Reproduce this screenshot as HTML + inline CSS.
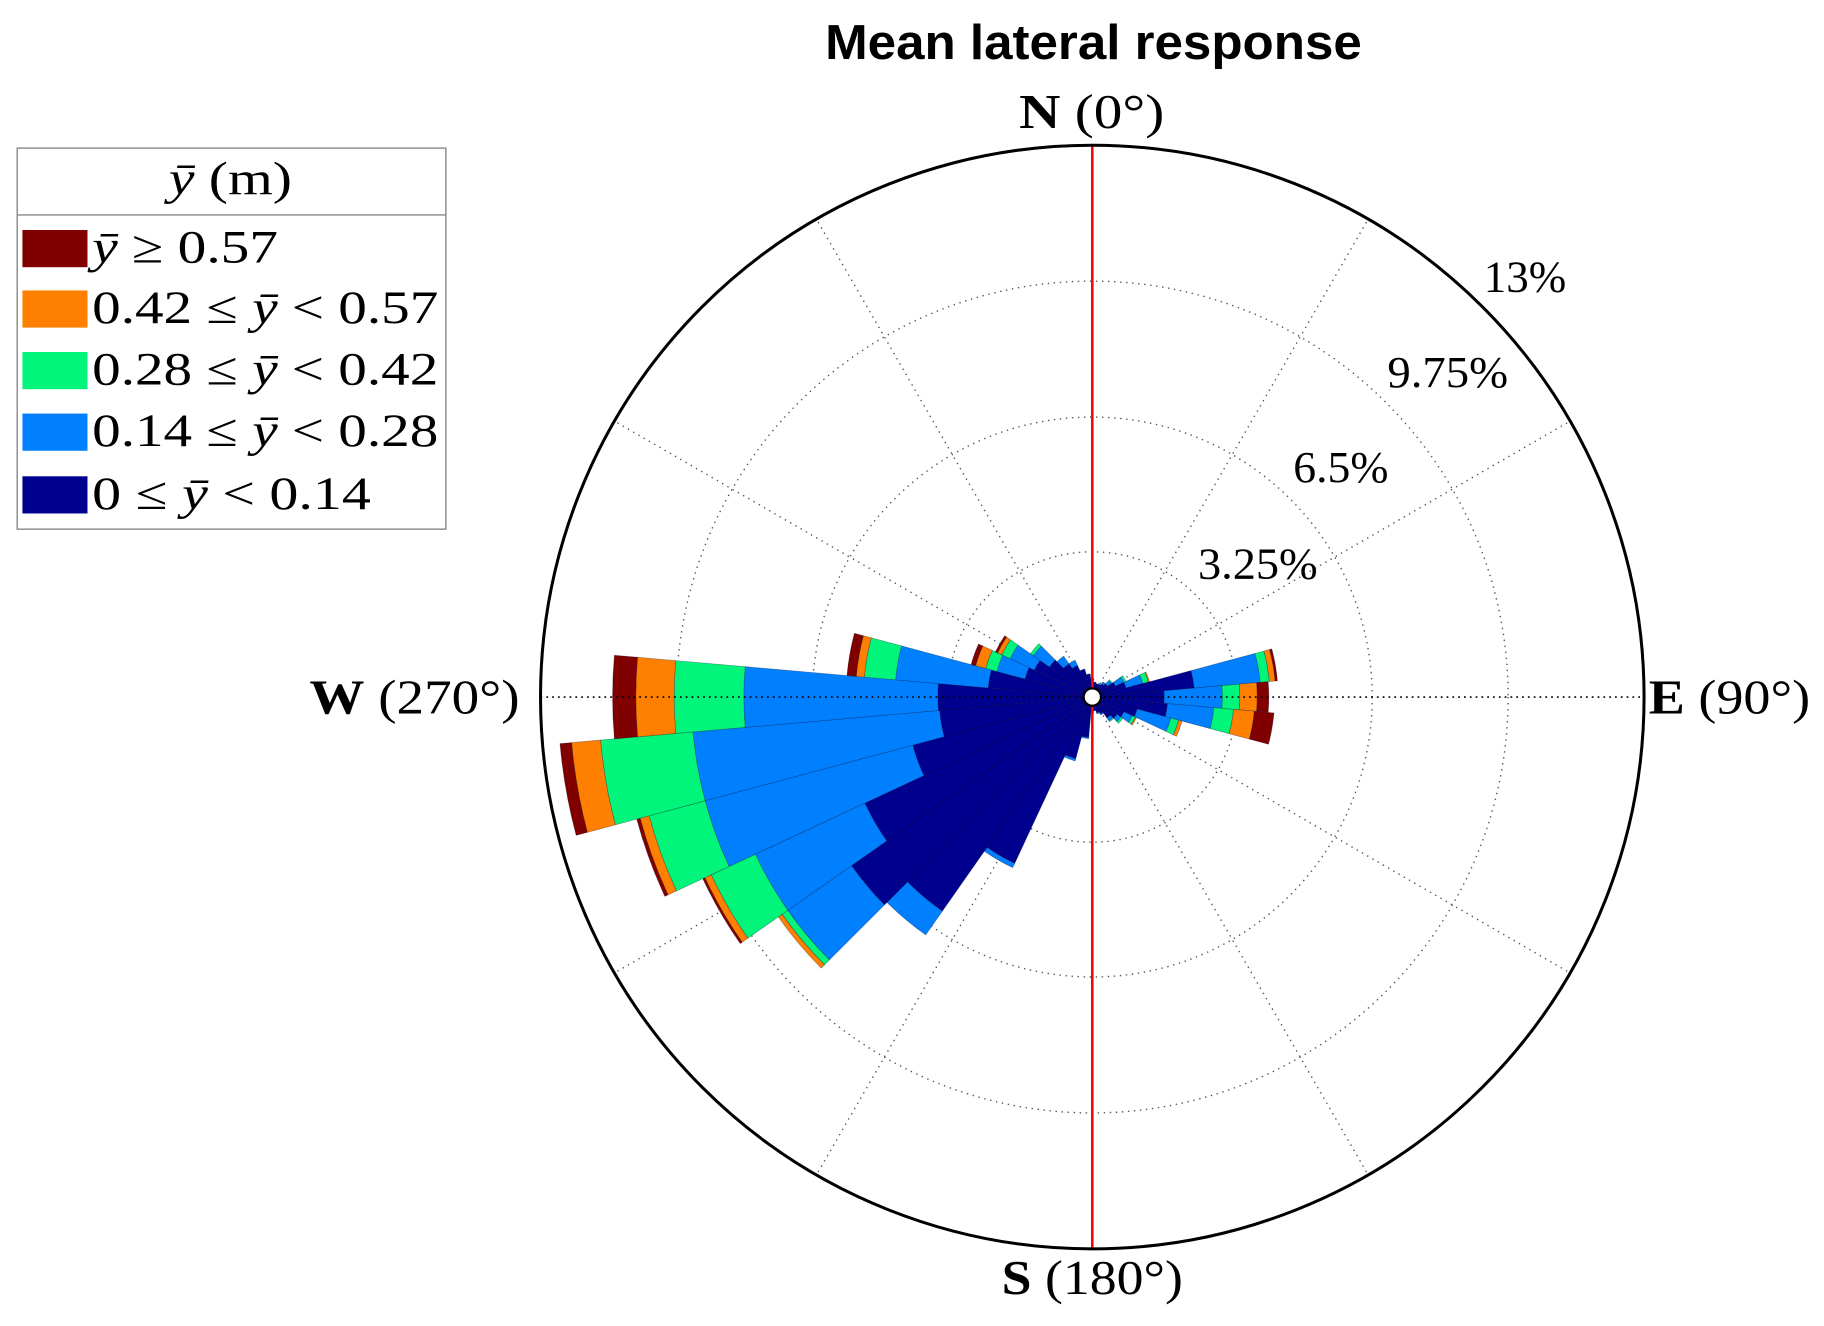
<!DOCTYPE html>
<html><head><meta charset="utf-8"><style>
html,body{margin:0;padding:0;background:#fff;}
svg{display:block;}
.serif{font-family:"Liberation Serif","DejaVu Serif",serif;}
</style></head><body>
<svg id="s" width="1824" height="1326" viewBox="0 0 1560 1134" preserveAspectRatio="none" xmlns="http://www.w3.org/2000/svg">
<rect width="1560" height="1134" fill="#fff"/>
<g transform="translate(934.2 596.1) scale(0.9935) translate(-938 -598)">
<g id="grid"></g>
<g id="bars"></g>
<g id="over"></g>
<text x="708" y="49" textLength="462" lengthAdjust="spacingAndGlyphs" font-family="Liberation Sans, sans-serif" font-weight="bold" font-size="42">Mean lateral response</text>
<g class="serif" font-size="42" fill="#000">
<text x="875" y="108" textLength="125" lengthAdjust="spacingAndGlyphs"><tspan font-weight="bold">N</tspan> (0°)</text>
<text x="264" y="612" textLength="181" lengthAdjust="spacingAndGlyphs"><tspan font-weight="bold">W</tspan> (270°)</text>
<text x="1417" y="612" textLength="139" lengthAdjust="spacingAndGlyphs"><tspan font-weight="bold">E</tspan> (90°)</text>
<text x="860" y="1112" textLength="156" lengthAdjust="spacingAndGlyphs"><tspan font-weight="bold">S</tspan> (180°)</text>
</g>
<g class="serif" font-size="38" fill="#000">
<text x="1275" y="249" textLength="71" lengthAdjust="spacingAndGlyphs">13%</text>
<text x="1192" y="331" textLength="104" lengthAdjust="spacingAndGlyphs">9.75%</text>
<text x="1111" y="413" textLength="82" lengthAdjust="spacingAndGlyphs">6.5%</text>
<text x="1029" y="496" textLength="103" lengthAdjust="spacingAndGlyphs">3.25%</text>
</g>
<g class="serif" font-size="40">
<rect x="12.5" y="125.5" width="369" height="328" fill="#fff" stroke="#888" stroke-width="1.2"/>
<line x1="12.5" y1="183" x2="381.5" y2="183" stroke="#888" stroke-width="1.2"/>
<text x="143" y="165" textLength="106" lengthAdjust="spacingAndGlyphs"><tspan font-style="italic">ȳ</tspan> (m)</text>
<rect x="17" y="196" width="56" height="32" fill="#800000"/>
<rect x="17" y="248" width="56" height="32" fill="#ff8000"/>
<rect x="17" y="301" width="56" height="32" fill="#00f57a"/>
<rect x="17" y="354" width="56" height="32" fill="#0080ff"/>
<rect x="17" y="408" width="56" height="32" fill="#00008f"/>
<text x="77" y="224" textLength="160" lengthAdjust="spacingAndGlyphs"><tspan font-style="italic">ȳ</tspan> ≥ 0.57</text>
<text x="77" y="276" textLength="298" lengthAdjust="spacingAndGlyphs">0.42 ≤ <tspan font-style="italic">ȳ</tspan> &lt; 0.57</text>
<text x="77" y="329" textLength="298" lengthAdjust="spacingAndGlyphs">0.28 ≤ <tspan font-style="italic">ȳ</tspan> &lt; 0.42</text>
<text x="77" y="382" textLength="298" lengthAdjust="spacingAndGlyphs">0.14 ≤ <tspan font-style="italic">ȳ</tspan> &lt; 0.28</text>
<text x="77" y="436" textLength="240" lengthAdjust="spacingAndGlyphs">0 ≤ <tspan font-style="italic">ȳ</tspan> &lt; 0.14</text>
</g>
</g>
</svg>
<script>
var cx=938,cy=598,R=475,NS="http://www.w3.org/2000/svg";
function el(p,t,a){var e=document.createElementNS(NS,t);for(var k in a)e.setAttribute(k,a[k]);p.appendChild(e);return e;}
function pt(r,th){var a=th*Math.PI/180;return [cx+r*Math.sin(a),cy-r*Math.cos(a)];}
var g=document.getElementById('grid');
[125,241,358].forEach(function(r){el(g,'circle',{cx:cx,cy:cy,r:r,fill:'none',stroke:'#555','stroke-width':1.2,'stroke-dasharray':'1.2 4'});});
for(var t=0;t<360;t+=30){if(t%90==0)continue;var p=pt(R,t),q=pt(8,t);el(g,'line',{x1:q[0],y1:q[1],x2:p[0],y2:p[1],stroke:'#555','stroke-width':1.2,'stroke-dasharray':'1.2 4'});}
var cols=['#00008f','#0080ff','#00f57a','#ff8000','#800000'];
var data={270:[133,300,360,393,413],260:[132,345,425,450,460],250:[160,345,395,403,406],240:[216,320,362,368,370],230:[253,320,326,330,330],220:[225,250,250,250,250],210:[158,162,162,162,162],200:[55,57,57,57,57],190:[35,36,36,36,36],180:[14,14,14,14,14],170:[12,12,12,12,12],160:[14,15,15,15,15],150:[16,17,17,17,17],140:[22,25,26,26,26],130:[26,30,32,32,32],120:[30,38,41,42,42],110:[40,70,77,80,80],100:[65,105,122,140,157],90:[62,112,127,142,152],80:[88,145,153,158,160],70:[30,45,50,51,51],60:[22,30,32,32,32],50:[16,20,21,21,21],40:[14,16,16,16,16],30:[12,13,13,13,13],20:[12,12,12,12,12],10:[13,13,13,13,13],0:[16,16,16,16,16],350:[20,20,20,20,20],340:[25,25,25,25,25],330:[30,35,35,35,35],320:[35,43,43,43,43],310:[45,62,65,65,65],300:[55,78,86,90,92],290:[60,85,95,104,108],280:[90,170,197,204,212]};
var b=document.getElementById('bars');
function sector(r0,r1,c,col){if(r1<=r0)return;var a0=c-5,a1=c+5;var p1=pt(r0,a0),p2=pt(r1,a0),p3=pt(r1,a1),p4=pt(r0,a1);
var d='M'+p1+' L'+p2+' A'+r1+' '+r1+' 0 0 1 '+p3+' L'+p4+(r0>0?' A'+r0+' '+r0+' 0 0 0 '+p1:' L'+cx+','+cy)+' Z';
el(b,'path',{d:d,fill:col,stroke:'rgba(0,0,40,0.35)','stroke-width':0.6});}
for(var k in data){var v=data[k],prev=0;for(var i=0;i<5;i++){sector(prev,v[i],+k,cols[i]);prev=Math.max(prev,v[i]);}}
var o=document.getElementById('over');
el(o,'line',{x1:cx-R,y1:cy,x2:cx+R,y2:cy,stroke:'#000','stroke-width':1.4,'stroke-dasharray':'1.5 3.5'});
el(o,'line',{x1:cx,y1:cy-R,x2:cx,y2:cy+R,stroke:'#ff0000','stroke-width':2.2});
el(o,'circle',{cx:cx,cy:cy,r:R,fill:'none',stroke:'#000','stroke-width':2.6});
el(o,'circle',{cx:cx,cy:cy,r:7.5,fill:'#fff',stroke:'#000','stroke-width':2});
</script>
</body></html>
